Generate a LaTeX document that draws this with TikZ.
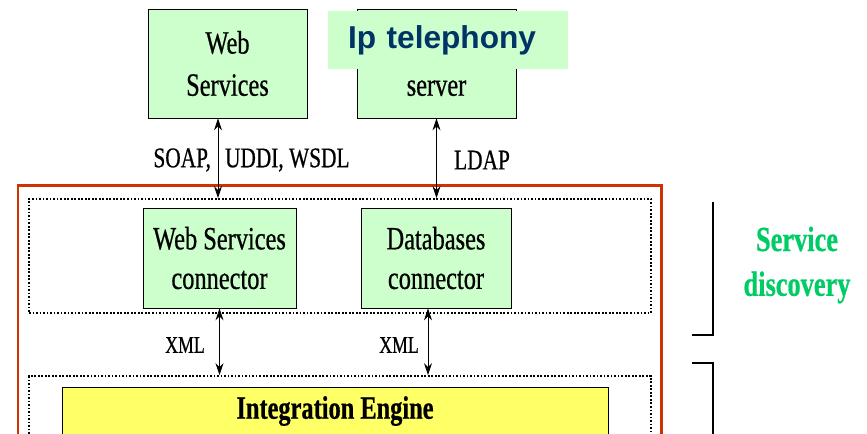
\documentclass[tikz,border=0pt]{standalone}
\usepackage{fontspec}
\setmainfont[FakeStretch=0.75, FakeBold=0.6]{Liberation Serif}
\newfontfamily\arialfont{Liberation Sans}
\usetikzlibrary{
    positioning,    % relative placement
    arrows.meta,    % Stealth tips
    calc
}
\definecolor{boxgreen}{HTML}{CCFFCC}
\definecolor{framered}{HTML}{CC3300}
\definecolor{engyellow}{HTML}{FFFF66}
\definecolor{telblue}{HTML}{003366}
\definecolor{discgreen}{HTML}{00CC66}

\begin{document}
\begin{tikzpicture}[
    x=0.2mm, y=-0.2mm,
    box/.style={rectangle, draw, fill=boxgreen, align=center, font=\fontsize{18.5}{24}\selectfont},
    server/.style={box, minimum width=31.8mm, minimum height=21.8mm},
    connector/.style={box, minimum height=20mm, font=\fontsize{18.5}{22.5}\selectfont},
    dot_frame/.style={rectangle, draw, densely dotted, line width=1pt},
    arrow/.style={{Stealth[length=2.4mm,width=1.6mm]}-{Stealth[length=2.4mm,width=1.6mm]}, line width=0.5pt},
    proto/.style={font=\fontsize{16.2}{18}\selectfont},
    engine/.style={rectangle, draw, fill=engyellow, font=\bfseries\fontsize{18.5}{20}\selectfont}
]
    \clip (0,0) rectangle (867,433);
    \fill[white] (0,0) rectangle (867,433);

    % Outer frame
    \node[rectangle, draw=framered, line width=1.7pt, minimum width=128.6mm, minimum height=55mm] (outer) at (339.5,322.5) {};

    % Servers
    \node[server] (ws) at (227.5,63.5) {Web\\Services};
    \node[server] (ipsrv) at (436.5,63.5) {\phantom{Web}\\server};
    \node[fill=boxgreen, text=telblue, font=\arialfont\bfseries\fontsize{18}{20}\selectfont,
          text width=40mm, inner xsep=4mm, minimum height=11.6mm, align=left] (iptel) at (448,40) {Ip telephony};

    % Service discovery layer
    \node[dot_frame, minimum width=124.4mm, minimum height=22.8mm] (disc) at (340,256) {};
    \node[connector, minimum width=30.6mm] (wsc) at (219.5,258) {Web Services\\connector};
    \node[connector, minimum width=30mm] (dbc) at (436,258) {Databases\\connector};

    \draw[arrow] ([xshift=-1.9mm]ws.south) -- ([xshift=-1.9mm]ws.south |- disc.north);
    \draw[arrow] (ipsrv.south) -- (ipsrv.south |- disc.north);
    \node[proto] (soap) at (251.5,160) {SOAP,\hspace{8pt}UDDI, WSDL};
    \node[proto] (ldap) at (482,160) {LDAP};

    % Integration layer
    \node[dot_frame, minimum width=124.4mm, minimum height=14.8mm] (integ) at (340,413) {};
    \node[engine, minimum width=109.2mm, minimum height=9.6mm] (eng) at (335,411) {Integration Engine};

    \draw[arrow] (wsc.south) -- (wsc.south |- integ.north);
    \draw[arrow] ([xshift=-1.6mm]dbc.south) -- ([xshift=-1.6mm]dbc.south |- integ.north);
    \node[proto, font=\fontsize{13.5}{15}\selectfont] (xml1) at (185,345) {XML};
    \node[proto, font=\fontsize{13.5}{15}\selectfont] (xml2) at (399,345) {XML};

    % Brackets on the right
    \draw[line width=0.6pt] (692,335) -| (713,202);
    \draw[line width=0.6pt] (692,363) -| (713,445);
    \node[text=discgreen, align=center, font=\bfseries\fontsize{20}{25.5}\selectfont] (sd) at (797,265) {Service\\discovery};
\end{tikzpicture}
\end{document}
